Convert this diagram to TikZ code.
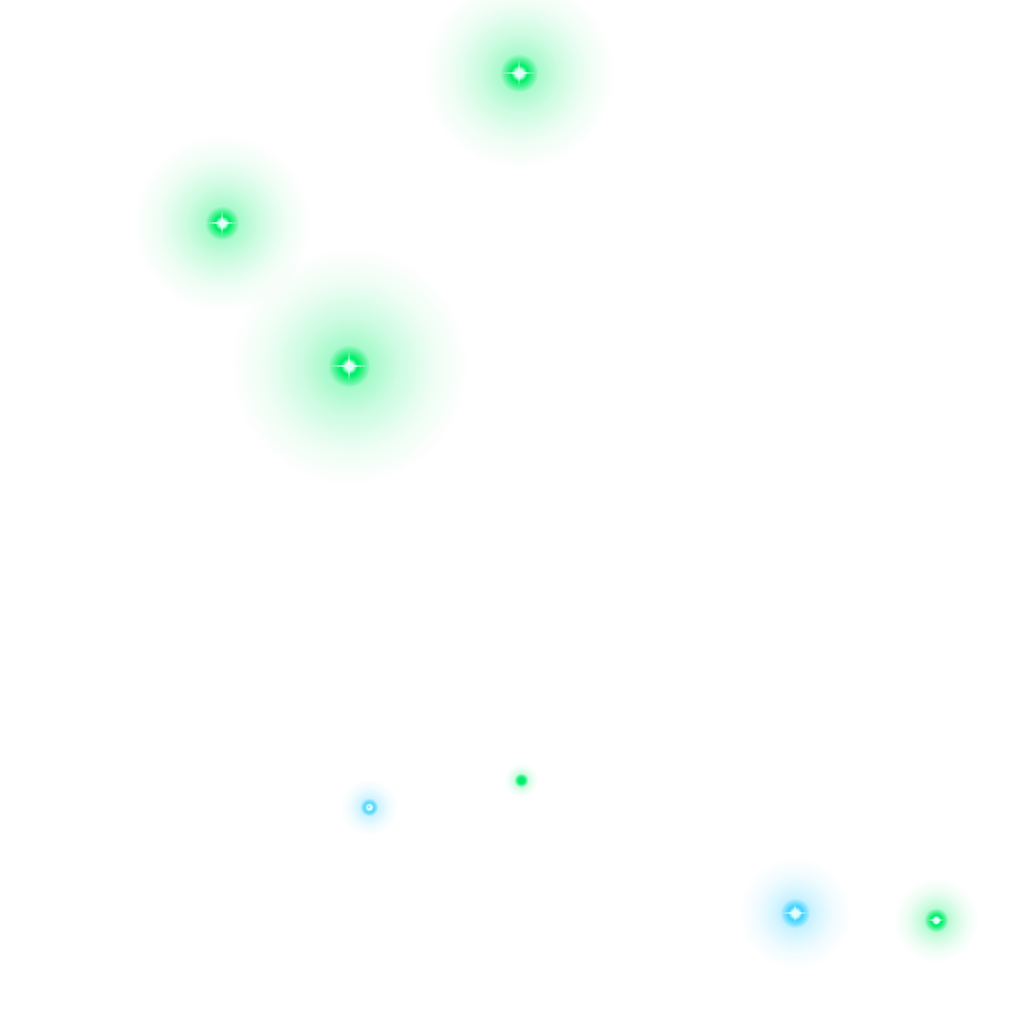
\documentclass[tikz,border=0pt]{standalone}
\usetikzlibrary{fadings}
\definecolor{sgreen}{RGB}{0,240,105}
\definecolor{scyan}{RGB}{60,210,255}
\definecolor{spark}{RGB}{225,255,250}
\pgfdeclareradialshading{halofade}{\pgfpoint{0bp}{0bp}}{color(0bp)=(transparent!0); color(4bp)=(transparent!20); color(10bp)=(transparent!55); color(17.5bp)=(transparent!85); color(25bp)=(transparent!100); color(50bp)=(transparent!100)}
\pgfdeclarefading{halo}{\pgfuseshading{halofade}}
\pgfdeclareradialshading{corefade}{\pgfpoint{0bp}{0bp}}{color(0bp)=(transparent!0); color(11bp)=(transparent!0); color(25bp)=(transparent!100); color(50bp)=(transparent!100)}
\pgfdeclarefading{corefading}{\pgfuseshading{corefade}}
\newcommand\glowstar[6]{%
  \fill[#5, opacity=0.45, path fading=halo] (#1,#2) circle (#3);
  \fill[#5, path fading=corefading] (#1,#2) circle (#4);
  \ifdim #6pt>0pt
  \fill[spark, path fading=corefading] (#1,#2) circle (#6);
  \fi}
\newcommand\sparkle[4]{% x y hlen vlen
  \fill[spark, opacity=0.8] (#1-#3,#2) -- (#1-1.2,#2-1.2) -- (#1,#2-#4) -- (#1+1.2,#2-1.2) -- (#1+#3,#2) -- (#1+1.2,#2+1.2) -- (#1,#2+#4) -- (#1-1.2,#2+1.2) -- cycle;}
\begin{document}
\begin{tikzpicture}[x=0.1mm,y=-0.1mm]
\useasboundingbox[fill=white] (0,0) rectangle (1016,1016);
\glowstar{519}{73}{95}{19}{sgreen}{8}
\sparkle{519}{73}{18}{13}
\glowstar{222}{223}{88}{17}{sgreen}{7}
\sparkle{222}{223}{16}{12}
\glowstar{349}{366}{118}{21}{sgreen}{8}
\sparkle{349}{366}{20}{15}
\glowstar{369}{807}{28}{9}{scyan}{5}
\fill[scyan!60] (369,807) circle (1.3);
\glowstar{521}{780}{17}{7}{sgreen}{0}
\glowstar{795}{913}{55}{15}{scyan}{7}
\sparkle{795}{913}{14}{9}
\glowstar{936}{920}{42}{12}{sgreen}{5}
\sparkle{936}{920}{8}{4}
\end{tikzpicture}
\end{document}
